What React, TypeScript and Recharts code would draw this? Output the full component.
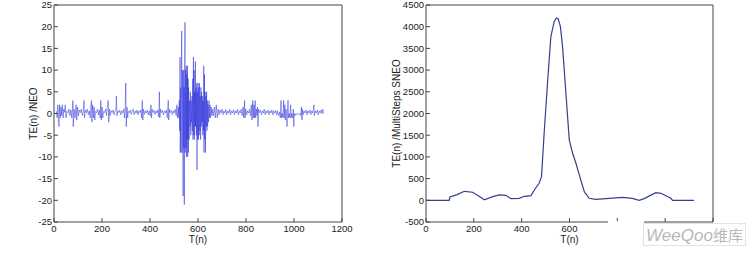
import React from 'react';
import { LineChart, Line, XAxis, YAxis } from 'recharts';

// TE(n) /NEO  — [T, value] pairs
const neoQuietEarly: [number, number][] = [
    [10, 0.5], [13, -1], [16, 2], [19, -1.5], [21, -3], [23, 2], [26, -1], [29, 1.5], [32, -0.5], [35, 2],
    [38, -1], [41, 1], [44, 0.3], [47, 2], [50, -1], [54, 0.5], [58, 0.2], [62, 1], [66, -0.5], [70, 0.8],
    [74, -1], [79, 3], [80, -3], [84, 1], [88, -1], [92, 2], [95, -1.5], [98, 1.5], [102, -0.5], [106, 0.8],
    [110, 0.2], [114, 1], [118, -0.5], [122, 0.5], [125, 3], [127, -1], [131, 0.8], [135, 0.2], [139, 1], [143, -0.3],
    [147, 0.6], [151, -1], [154, 2], [156, 3], [158, -2], [161, 2], [164, -1], [167, 1.5], [170, -1.5], [173, 0.5],
    [177, 0.2], [181, 1], [185, -0.3], [189, 0.8], [192, -1], [195, 3], [197, -1.5], [200, 1.5], [203, -1], [207, 0.5],
    [211, 0.2], [215, 1], [219, -0.5], [222, 1.5], [226, 3], [228, -2], [231, 1], [234, -0.5], [238, 0.6], [242, 0.2],
    [246, 0.8], [250, -0.3], [254, 0.5], [258, 1], [260, 4], [262, -0.5], [266, 0.6], [270, 0.2], [274, 0.8], [278, -0.3],
    [282, 0.6], [286, 0.1], [290, 1], [294, -1], [297, 2], [299, 7], [301, -3], [304, 1.5], [307, -1], [310, 0.5],
    [314, 0.2], [318, 0.8], [322, -0.2], [326, 0.6], [330, 1], [334, -0.3], [338, 0.6], [342, 0.1], [346, 0.8], [350, -0.3],
    [354, 0.6], [358, 0.2], [362, 0.8], [365, -1], [368, 3], [370, -1.5], [373, 1], [377, -0.2], [381, 0.6], [385, 0.1],
    [389, 0.8], [393, -0.3], [397, 0.6], [401, -0.5], [404, 2], [406, -1], [409, 1], [413, 0.2], [417, 0.7], [421, -0.2],
    [425, 0.6], [429, 0.1], [433, 0.8], [437, -0.8], [439, 5], [441, -1], [444, 1], [448, 0.2], [452, 0.7], [456, -0.3],
    [460, 0.6], [464, 0.1], [468, 0.8], [472, -1], [476, 3], [478, -1.5], [481, 1], [485, 0.2], [489, 0.7], [493, -0.3],
    [497, 0.6], [501, 0.1], [505, 1], [509, -0.5], [512, 2], [515, -1], [518, 1.5],
];

const neoBurst: [number, number][] = [
    [520, -1], [522, 3], [524, -4], [525, 13], [526, -9], [528, 6], [529, -9], [531, 10], [532, 19], [534, -9],
    [535, 10], [537, -5], [538, -19], [540, 10], [541, -8], [542, 6], [543, -21], [544, 10], [546, 21], [547, -9],
    [548, 10], [550, -8], [551, 11], [552, -10], [554, 9], [555, -6], [556, 11], [557, -10], [559, 8], [560, -9],
    [561, 6], [563, -6], [565, 3], [567, -3], [568, 5], [570, -5], [571, 3], [573, -2], [575, 4], [576, -4],
    [578, 8], [579, -6], [581, 13], [582, -5], [584, 10], [585, -6], [586, 5], [588, -3], [589, 12], [590, -3],
    [592, 6], [593, -5], [595, 7], [596, -13], [597, 5], [599, -6], [600, 7], [602, -6], [603, 6], [605, -5],
    [606, 7], [608, -4], [609, 4], [611, -6], [612, 6], [614, -3], [615, 5], [617, -2], [618, 4], [620, -5],
    [621, 3], [623, -4], [624, 11], [625, -9], [627, 9], [628, -6], [630, 5], [631, -9], [633, 4], [634, -3],
    [636, 5], [637, -4], [639, 3], [640, -3], [642, 2], [644, -2], [646, 3], [648, -1], [650, 2], [652, -1],
    [655, 1.5], [658, -0.5],
];

const neoQuietLate: [number, number][] = [
    [660, 1], [664, -0.5], [668, 1.5], [672, -1], [676, 2], [680, -1], [684, 1], [688, -0.3], [692, 0.8], [696, 0.1],
    [700, 1], [704, -0.3], [708, 0.6], [712, 0.1], [716, 0.9], [720, -0.3], [724, 0.6], [728, 0.1], [732, 1], [736, -0.3],
    [740, 0.6], [744, 0.1], [748, 0.9], [752, -0.3], [756, 0.6], [760, 0.1], [764, 1], [768, -0.3], [772, 0.6], [776, 0.1],
    [780, 1], [784, -0.5], [788, 1.5], [791, -1], [794, 3], [796, -1], [799, 1], [803, -0.3], [807, 0.6], [811, 0.1],
    [815, 1], [819, -0.5], [822, 2], [825, -1.5], [828, 3], [830, -1], [833, 2], [835, -1], [838, 3], [840, -1],
    [843, 1], [846, -0.5], [848, 1.5], [850, -3], [852, 1], [856, 0.2], [860, 0.8], [864, -0.3], [868, 0.6], [872, 0.1],
    [876, 1], [880, -0.3], [884, 0.6], [888, 0.1], [892, 0.8], [896, -0.3], [900, 0.6], [904, 0.1], [908, 0.8], [912, -0.3],
    [916, 0.6], [920, 0.1], [924, 0.7], [928, -0.3], [932, 0.6], [936, -0.5], [940, 0.3], [943, -1], [946, 3], [948, -1],
    [951, 0], [954, -1], [957, 3], [959, -1], [962, 2], [964, -1.5], [967, 1], [969, -1], [971, -3], [973, 0],
    [975, 3], [977, -1], [980, 0], [983, -1], [986, 2], [988, -1], [991, 0], [994, -1], [997, 1], [999, -3],
    [1001, 0], [1004, -0.5], [1008, 0], [1012, -0.3], [1016, 0], [1020, -0.2], [1024, 0], [1028, -0.5], [1031, 1.5], [1033, -1.5],
    [1035, 1], [1038, -0.3], [1042, 0.6], [1046, 0.1], [1050, 0.8], [1054, -0.3], [1058, 0.6], [1062, 0.1], [1066, 0.8], [1070, -0.3],
    [1074, 0.6], [1078, 0.1], [1081, 1], [1083, 2], [1085, -0.5], [1089, 0.6], [1093, 0.1], [1097, 0.8], [1101, -0.3], [1105, 0.6],
    [1109, 0.1], [1113, 0.8], [1117, 0], [1120, 1], [1122, 0],
];

// TE(n) /MultiSteps SNEO
const sneoT = [0, 97, 100, 130, 160, 195, 225, 244, 279, 306, 334, 355, 390, 411, 439, 453, 473, 483, 494, 508,
    522, 536, 545, 553, 562, 571, 585, 599, 613, 627, 643, 662, 682, 710, 766, 822, 863, 891, 912, 961, 982, 1024, 1031, 1121];
const sneoV = [0, 0, 75, 130, 207, 185, 80, 10, 84, 123, 115, 38, 46, 92, 107, 238, 392, 545, 1544, 2696,
    3771, 4117, 4200, 4180, 4000, 3541, 2465, 1390, 1083, 853, 545, 200, 46, 23, 46, 69, 46, 0, 38, 177, 161, 46, 0, 0];

const xTicks = [0, 200, 400, 600, 800, 1000, 1200];
const neoYTicks = [-25, -20, -15, -10, -5, 0, 5, 10, 15, 20, 25];
const sneoYTicks = [-500, 0, 500, 1000, 1500, 2000, 2500, 3000, 3500, 4000, 4500];

const neoData = [...neoQuietEarly, ...neoBurst, ...neoQuietLate].map(([t, v]) => ({ t, v }));
const sneoData = sneoT.map((t, i) => ({ t, v: sneoV[i] }));

const FONT = '"Liberation Sans", Arial, sans-serif';
const AXIS = '#444';
const tickStyle = { fontSize: 9.5, fill: '#222', fontFamily: FONT };

// bottom tick labels; labels past maxLabel sit under the watermark and are left out
const makeXTick = (maxLabel: number) => (props: any) => {
    const { x, y, payload } = props;
    if (payload.value > maxLabel) return <g />;
    return (
        <text x={x} y={y} dy={8} textAnchor="middle" {...tickStyle}>{payload.value}</text>
    );
};

function Panel({ data, yTicks, yDomain, yLabel, yWidth, rightMargin, color, width, opacity, labelDx, maxXLabel }: any) {
    return (
        <LineChart width={376} height={253} data={data} margin={{ top: 4, right: rightMargin, left: 0, bottom: 0 }}>
            <XAxis
                dataKey="t"
                type="number"
                domain={[0, 1200]}
                ticks={xTicks}
                height={31}
                stroke={AXIS}
                tickSize={-4}
                tickMargin={6}
                tick={makeXTick(maxXLabel)}
                interval={0}
                label={{ value: 'T(n)', position: 'center', fontSize: 10, fill: '#222', fontFamily: FONT, dy: 2 }}
            />
            <XAxis xAxisId="top" orientation="top" type="number" domain={[0, 1200]} ticks={xTicks}
                height={1} stroke={AXIS} tickSize={-4} tick={false} interval={0} />
            <YAxis
                type="number"
                domain={yDomain}
                ticks={yTicks}
                width={yWidth}
                stroke={AXIS}
                tickSize={-4}
                tickMargin={6}
                tick={tickStyle}
                interval={0}
                label={{ value: yLabel, angle: -90, position: 'center', fontSize: 10, fill: '#222', fontFamily: FONT, dx: labelDx }}
            />
            <YAxis yAxisId="right" orientation="right" type="number" domain={yDomain} ticks={yTicks}
                width={1} stroke={AXIS} tickSize={-4} tick={false} interval={0} />
            <Line
                type="linear"
                dataKey="v"
                stroke={color}
                strokeWidth={width}
                strokeOpacity={opacity}
                dot={false}
                isAnimationActive={false}
            />
            <Line xAxisId="top" yAxisId="right" dataKey="v" stroke="none" dot={false} legendType="none" isAnimationActive={false} />
        </LineChart>
    );
}

export default function App() {
    return (
        <div style={{ position: 'absolute', left: 0, top: 0, width: 752, height: 253, background: '#fff', overflow: 'hidden' }}>
            <div style={{ position: 'absolute', left: 0, top: 0 }}>
                <Panel data={neoData} yTicks={neoYTicks} yDomain={[-25, 25]} yLabel="TE(n) /NEO" maxXLabel={1200}
                    yWidth={54} rightMargin={33} color="#2226d6" width={0.8} opacity={0.6} labelDx={6} />
            </div>
            <div style={{ position: 'absolute', left: 376, top: 0 }}>
                <Panel data={sneoData} yTicks={sneoYTicks} yDomain={[-500, 4500]} yLabel="TE(n) /MultiSteps SNEO" maxXLabel={600}
                    yWidth={50} rightMargin={38} color="#34408c" width={1.2} opacity={1} labelDx={-5} />
            </div>
            {/* watermark box over the lower right corner */}
            <div style={{ position: 'absolute', left: 608, top: 221, width: 36, height: 14, background: '#fff' }} />
            <div style={{
                position: 'absolute', left: 643, top: 223, width: 101, height: 21, background: '#fff',
                border: '1px solid #e4e4e4', color: '#b8b8b8', fontFamily: FONT, fontStyle: 'italic',
                fontSize: 17, lineHeight: '21px', textAlign: 'center', whiteSpace: 'nowrap',
            }}>
                WeeQoo<span style={{ fontStyle: 'normal', fontFamily: '"Noto Sans CJK SC"', fontSize: 15 }}>维库</span>
            </div>
        </div>
    );
}
